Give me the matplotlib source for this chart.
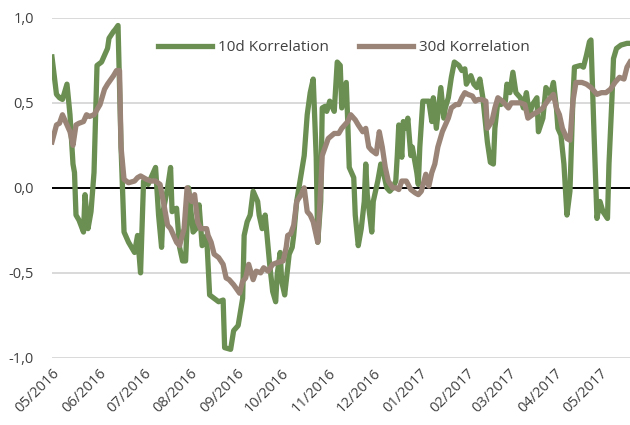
import pandas as pd
import matplotlib
matplotlib.use("Agg")
import matplotlib.pyplot as plt
import matplotlib.dates as mdates
from matplotlib.ticker import FuncFormatter

plt.rcParams['font.family'] = ['Open Sans', 'DejaVu Sans']

# Tage seit 01.05.2016 und Korrelationswerte
tage_10d = [0, 3, 5, 7, 10, 12, 14, 15, 16, 18, 21, 22, 24, 26, 28, 30, 33, 35, 37, 38,
            41, 42, 44, 46, 48, 51, 55, 57, 59, 61, 64, 66, 69, 71, 73, 74, 77, 79, 80, 83,
            85, 87, 89, 91, 94, 96, 98, 100, 103, 105, 108, 111, 114, 115, 119, 121, 124, 127, 128, 130,
            132, 134, 137, 138, 140, 142, 144, 145, 147, 149, 150, 152, 153, 155, 157, 158, 160, 161, 163, 166,
            168, 170, 172, 174, 176, 177, 179, 180, 182, 183, 185, 188, 190, 192, 193, 196, 197, 198, 201, 202,
            204, 206, 208, 209, 210, 213, 214, 217, 219, 221, 223, 225, 227, 229, 230, 231, 233, 234, 236, 237,
            239, 240, 243, 244, 245, 247, 251, 253, 254, 256, 259, 261, 262, 264, 266, 268, 271, 273, 275, 276,
            279, 281, 283, 285, 287, 290, 292, 294, 295, 297, 299, 302, 303, 305, 307, 309, 312, 314, 316, 318,
            320, 323, 324, 327, 329, 332, 334, 336, 337, 339, 341, 343, 345, 347, 348, 352, 354, 356, 358, 359,
            361, 363, 365, 367, 370, 371, 373, 374, 376, 379, 383, 385]
korr_10d = [0.77, 0.55, 0.53, 0.52, 0.61, 0.43, 0.14, 0.09, -0.16, -0.19, -0.26, -0.04, -0.24, -0.14, 0.09, 0.72, 0.74, 0.78, 0.82, 0.88,
            0.92, 0.93, 0.955, 0.24, -0.26, -0.32, -0.38, -0.28, -0.50, 0.04, 0.02, 0.06, 0.12, -0.16, -0.35, -0.14, 0.0, 0.12, -0.14, -0.12,
            -0.35, -0.43, -0.43, 0.0, -0.26, -0.24, -0.10, -0.34, -0.28, -0.63, -0.65, -0.67, -0.66, -0.94, -0.95, -0.84, -0.81, -0.65, -0.28, -0.20,
            -0.16, -0.02, -0.08, -0.16, -0.24, -0.16, -0.35, -0.45, -0.61, -0.67, -0.51, -0.38, -0.55, -0.63, -0.47, -0.39, -0.35, -0.28, -0.08, 0.08,
            0.19, 0.43, 0.56, 0.64, 0.18, -0.32, -0.08, 0.47, 0.48, 0.45, 0.51, 0.45, 0.74, 0.72, 0.47, 0.62, 0.39, 0.12, 0.06, -0.16,
            -0.34, -0.24, -0.08, 0.14, -0.04, -0.26, -0.08, 0.04, 0.14, 0.08, 0.0, -0.02, 0.0, 0.04, 0.19, 0.37, 0.18, 0.39, 0.35, 0.41,
            0.19, 0.24, 0.09, 0.02, 0.24, 0.51, 0.51, 0.39, 0.53, 0.35, 0.59, 0.41, 0.47, 0.53, 0.65, 0.74, 0.72, 0.69, 0.70, 0.61,
            0.66, 0.61, 0.59, 0.64, 0.53, 0.27, 0.15, 0.14, 0.35, 0.51, 0.49, 0.51, 0.61, 0.56, 0.68, 0.56, 0.53, 0.47, 0.56, 0.43,
            0.49, 0.53, 0.33, 0.41, 0.59, 0.55, 0.62, 0.47, 0.35, 0.31, 0.14, -0.16, -0.02, 0.53, 0.71, 0.72, 0.71, 0.78, 0.86, 0.87,
            0.33, -0.18, -0.08, -0.14, -0.18, 0.14, 0.53, 0.76, 0.82, 0.84, 0.85, 0.85]

tage_30d = [0, 3, 5, 7, 10, 12, 14, 16, 18, 21, 23, 25, 28, 32, 35, 37, 41, 43, 45, 46,
            48, 51, 55, 57, 59, 63, 66, 69, 72, 75, 77, 79, 83, 85, 88, 90, 93, 95, 97, 99,
            103, 104, 106, 108, 111, 114, 116, 118, 121, 125, 127, 129, 131, 134, 136, 139, 141, 144, 147, 150,
            154, 156, 157, 159, 161, 163, 166, 168, 170, 172, 174, 177, 179, 180, 182, 184, 188, 191, 193, 197,
            199, 202, 204, 207, 209, 211, 213, 216, 218, 220, 222, 224, 227, 229, 231, 233, 236, 239, 242, 244,
            246, 249, 251, 253, 255, 257, 260, 262, 264, 266, 269, 271, 273, 275, 277, 280, 282, 284, 286, 289,
            290, 293, 295, 297, 300, 302, 304, 306, 310, 312, 315, 317, 320, 324, 327, 330, 334, 336, 338, 340,
            343, 345, 347, 349, 353, 356, 359, 363, 366, 369, 372, 375, 378, 381, 383, 385]
korr_30d = [0.27, 0.37, 0.38, 0.43, 0.37, 0.33, 0.25, 0.37, 0.38, 0.39, 0.43, 0.42, 0.43, 0.49, 0.58, 0.61, 0.66, 0.69, 0.69, 0.24,
            0.05, 0.03, 0.04, 0.06, 0.07, 0.05, 0.04, 0.04, 0.02, -0.12, -0.22, -0.24, -0.32, -0.34, -0.24, 0.0, -0.08, -0.04, -0.20, -0.24,
            -0.24, -0.28, -0.32, -0.39, -0.41, -0.45, -0.53, -0.54, -0.57, -0.62, -0.55, -0.53, -0.45, -0.54, -0.49, -0.50, -0.47, -0.49, -0.45, -0.44,
            -0.43, -0.35, -0.28, -0.27, -0.22, -0.08, -0.04, 0.0, -0.14, -0.16, -0.20, -0.32, 0.0, 0.19, 0.24, 0.29, 0.32, 0.32, 0.35, 0.39,
            0.43, 0.40, 0.37, 0.33, 0.35, 0.24, 0.22, 0.20, 0.33, 0.24, 0.12, 0.04, 0.0, 0.0, -0.01, 0.04, 0.04, -0.01, -0.03, -0.04,
            -0.02, 0.08, 0.01, 0.09, 0.14, 0.24, 0.33, 0.37, 0.41, 0.47, 0.49, 0.49, 0.53, 0.56, 0.55, 0.54, 0.51, 0.52, 0.52, 0.51,
            0.35, 0.39, 0.47, 0.53, 0.51, 0.49, 0.47, 0.50, 0.50, 0.50, 0.49, 0.41, 0.43, 0.45, 0.47, 0.51, 0.55, 0.47, 0.43, 0.35,
            0.29, 0.28, 0.51, 0.62, 0.62, 0.61, 0.59, 0.55, 0.56, 0.56, 0.58, 0.62, 0.65, 0.64, 0.71, 0.74]

start = pd.Timestamp("2016-05-01")
datum_10d = start + pd.to_timedelta(tage_10d, unit="D")
datum_30d = start + pd.to_timedelta(tage_30d, unit="D")

gruen = "#6b8f52"
taupe = "#9a8477"

fig = plt.figure(figsize=(6.3, 4.25), dpi=100)
ax = fig.add_axes([0.0825, 0.158, 0.9175, 0.8])

ax.plot(datum_10d, korr_10d, color=gruen, lw=3.8, label="10d Korrelation", solid_joinstyle="round")
ax.plot(datum_30d, korr_30d, color=taupe, lw=3.8, label="30d Korrelation", solid_joinstyle="round")
ax.axhline(0, color="black", lw=1.4, zorder=1)

ax.set_ylim(-1.0, 1.0)
ax.set_yticks([-1.0, -0.5, 0.0, 0.5, 1.0])
ax.yaxis.set_major_formatter(FuncFormatter(lambda v, p: f"{v:.1f}".replace(".", ",")))
ax.set_xlim(datum_10d[0], datum_10d[-1])
ax.xaxis.set_major_locator(mdates.MonthLocator())
ax.xaxis.set_major_formatter(mdates.DateFormatter("%m/%Y"))

ax.grid(axis="y", color="#d9d9d9", lw=1.4, zorder=0)
ax.set_axisbelow(True)
for s in ax.spines.values():
    s.set_visible(False)

ax.tick_params(axis="y", length=0, pad=13, labelsize=10.5, labelcolor="#404040")
ax.tick_params(axis="x", length=0, pad=6, labelsize=10.5, labelcolor="#404040")
plt.setp(ax.get_xticklabels(), rotation=45, ha="right", rotation_mode="anchor")

ax.legend(loc="upper center", bbox_to_anchor=(0.505, 0.975), ncol=2, frameon=False,
          fontsize=11, handlelength=3.5, columnspacing=2.0, handletextpad=0.4,
          labelcolor="#404040")

fig.savefig("out.png", dpi=100)
